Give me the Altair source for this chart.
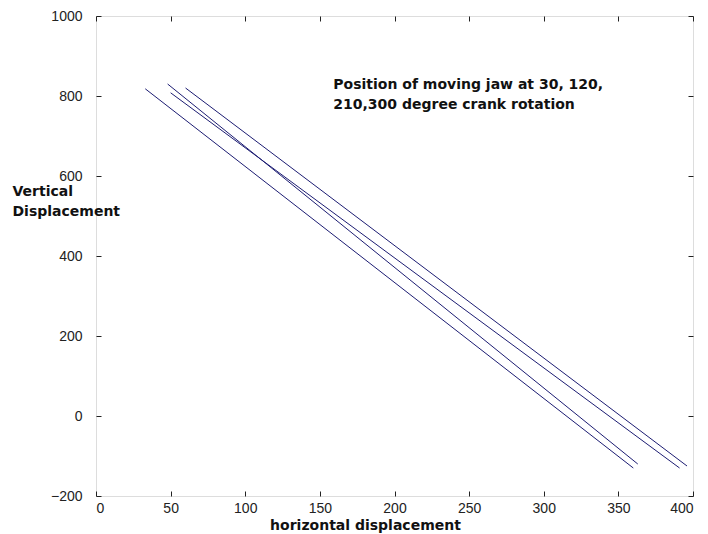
import altair as alt
import pandas as pd

# Four jaw positions (start and end points of each line)
series = ["30", "120", "210", "300"]
x_start = [33, 48, 50, 60]
y_start = [818, 830, 808, 820]
x_end = [360, 363, 391, 396]
y_end = [-130, -120, -130, -125]

x_ticks = [0, 50, 100, 150, 200, 250, 300, 350, 400]
y_ticks = [-200, 0, 200, 400, 600, 800, 1000]

annot_lines = ["Position of moving jaw at 30, 120,", "210,300 degree crank rotation"]
annot_x = [159]
annot_y = [845]

rows = []
for s, xs, ys, xe, ye in zip(series, x_start, y_start, x_end, y_end):
    rows.append({"angle": s, "x": xs, "y": ys, "o": 0})
    rows.append({"angle": s, "x": xe, "y": ye, "o": 1})
df = pd.DataFrame(rows)

FONT = "Liberation Sans"
BOLD = "DejaVu Sans"
xscale = alt.Scale(domain=[0, 400], nice=False, zero=False)
yscale = alt.Scale(domain=[-200, 1000], nice=False, zero=False)

lines = alt.Chart(df).mark_line(color="#1c1c72", strokeWidth=1).encode(
    x=alt.X("x:Q", scale=xscale,
            axis=alt.Axis(orient="bottom", values=x_ticks, format="d", offset=-5, tickSize=5,
                          domain=False, grid=False, tickColor="#222", labelPadding=5,
                          labelFont=FONT, labelFontSize=14, labelColor="#222",
                          title="horizontal displacement", titleFont=BOLD,
                          titleFontSize=14, titleFontWeight="bold", titleColor="#111",
                          titleX=269, titleY=38, titleAlign="center",
                          titleBaseline="alphabetic")),
    y=alt.Y("y:Q", scale=yscale,
            axis=alt.Axis(orient="left", values=y_ticks, format="d", offset=-5, tickSize=5,
                          domain=False, grid=False, tickColor="#222", labelPadding=14,
                          labelFont=FONT, labelFontSize=14, labelColor="#222",
                          title=["Vertical", "Displacement"], titleFont=BOLD,
                          titleFontSize=14, titleFontWeight="bold", titleColor="#111",
                          titleAngle=0, titleAlign="left", titleBaseline="top",
                          titleX=-89, titleY=168, titleLineHeight=20)),
    detail="angle:N",
    order="o:Q",
)

frame_ticks = alt.Chart(df).mark_point(opacity=0).encode(
    x=alt.X("x:Q", scale=xscale,
            axis=alt.Axis(orient="top", values=x_ticks, offset=-5, tickSize=5,
                          domain=False, grid=False, labels=False, title=None,
                          tickColor="#222")),
    y=alt.Y("y:Q", scale=yscale,
            axis=alt.Axis(orient="right", values=y_ticks, offset=-5, tickSize=5,
                          domain=False, grid=False, labels=False, title=None,
                          tickColor="#222")),
)

annot_df = pd.DataFrame({"x": annot_x, "y": annot_y, "t": [annot_lines]})
annot = alt.Chart(annot_df).mark_text(
    align="left", baseline="top", font=BOLD, fontSize=14, fontWeight="bold",
    color="#111", lineHeight=20
).encode(x=alt.X("x:Q", scale=xscale, axis=None),
         y=alt.Y("y:Q", scale=yscale, axis=None), text="t")

chart = alt.layer(lines, frame_ticks, annot).resolve_axis(
    x="independent", y="independent"
).properties(
    width=597, height=480, autosize="none",
    padding={"left": 96, "top": 16, "right": 15, "bottom": 38},
).configure_view(stroke="#222", strokeWidth=1).configure(background="white")

chart.save("out.html", embed_options={"renderer": "svg", "actions": False})
